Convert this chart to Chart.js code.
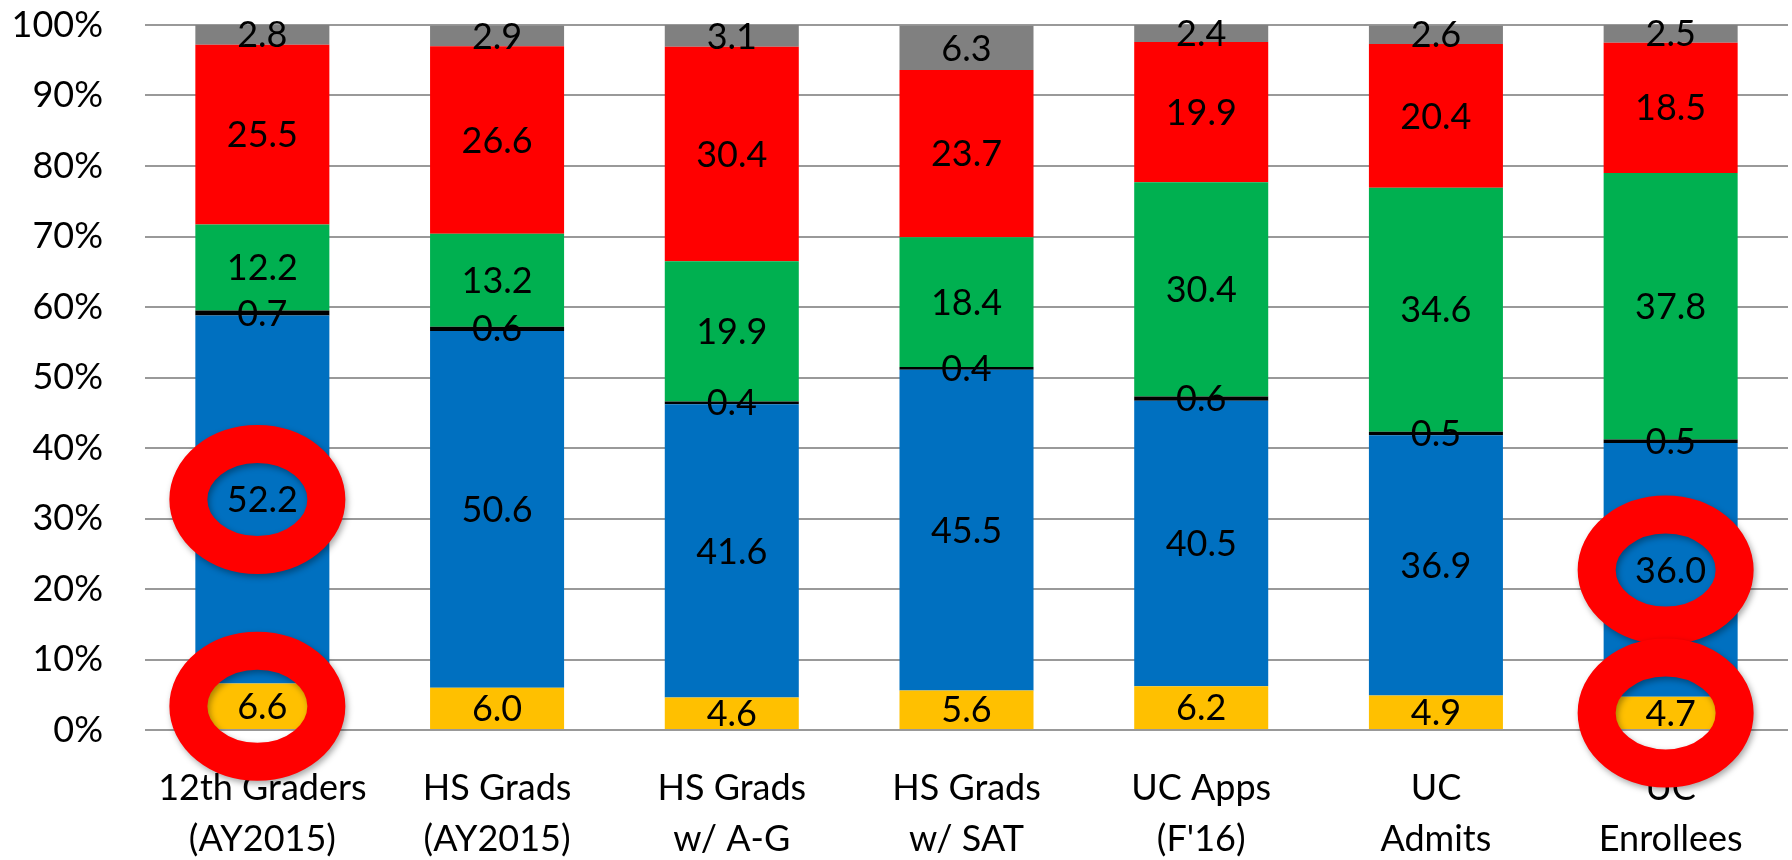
<!DOCTYPE html>
<html>
<head>
<meta charset="utf-8">
<script src="https://cdn.jsdelivr.net/npm/chart.js@4"></script>
<style>
  html, body { margin: 0; padding: 0; background: #ffffff; }
  canvas { display: block; }
</style>
</head>
<body>
<canvas id="c" width="1792" height="860"></canvas>
<script>
const categories = [
  ["12th Graders", "(AY2015)"],
  ["HS Grads", "(AY2015)"],
  ["HS Grads", "w/ A-G"],
  ["HS Grads", "w/ SAT"],
  ["UC Apps", "(F'16)"],
  ["UC", "Admits"],
  ["UC", "Enrollees"]
];
const yellowVals = [6.6, 6.0, 4.6, 5.6, 6.2, 4.9, 4.7];
const blueVals   = [52.2, 50.6, 41.6, 45.5, 40.5, 36.9, 36.0];
const blackVals  = [0.7, 0.6, 0.4, 0.4, 0.6, 0.5, 0.5];
const greenVals  = [12.2, 13.2, 19.9, 18.4, 30.4, 34.6, 37.8];
const redVals    = [25.5, 26.6, 30.4, 23.7, 19.9, 20.4, 18.5];
const grayVals   = [2.8, 2.9, 3.1, 6.3, 2.4, 2.6, 2.5];
const yTickLabels = ["0%", "10%", "20%", "30%", "40%", "50%", "60%", "70%", "80%", "90%", "100%"];
// which labels are circled: category index, series index
const highlightCats   = [0, 0, 6, 6];
const highlightSeries = [1, 0, 1, 0];

const FONT = "Lato, 'Open Sans', sans-serif";

const seriesList = [
  { label: "Yellow", data: yellowVals, color: "#FFC000" },
  { label: "Blue",   data: blueVals,   color: "#0070C0" },
  { label: "Black",  data: blackVals,  color: "#000000" },
  { label: "Green",  data: greenVals,  color: "#00B050" },
  { label: "Red",    data: redVals,    color: "#FF0000" },
  { label: "Gray",   data: grayVals,   color: "#808080" }
];

const valueLabels = {
  id: "valueLabels",
  afterDatasetsDraw(chart) {
    const ctx = chart.ctx;
    ctx.save();
    ctx.font = "36px " + FONT;
    ctx.fillStyle = "#000";
    ctx.textAlign = "center";
    ctx.textBaseline = "middle";
    chart.data.datasets.forEach((ds, di) => {
      const meta = chart.getDatasetMeta(di);
      meta.data.forEach((bar, i) => {
        const v = ds.data[i];
        const yc = (bar.y + bar.base) / 2;
        ctx.fillText(v.toFixed(1), bar.x, yc + 1);
      });
    });
    ctx.restore();
  }
};

const rings = {
  id: "rings",
  afterDraw(chart) {
    const ctx = chart.ctx;
    ctx.save();
    for (let k = 0; k < highlightCats.length; k++) {
      const bar = chart.getDatasetMeta(highlightSeries[k]).data[highlightCats[k]];
      const cx = bar.x - 5;
      const cy = (bar.y + bar.base) / 2;
      ctx.beginPath();
      ctx.ellipse(cx, cy, 69, 55.5, 0, 0, Math.PI * 2);
      ctx.lineWidth = 38;
      ctx.strokeStyle = "#FF0000";
      ctx.shadowColor = "rgba(0,0,0,0.35)";
      ctx.shadowBlur = 6;
      ctx.shadowOffsetX = 2;
      ctx.shadowOffsetY = 3;
      ctx.stroke();
    }
    ctx.restore();
  }
};

new Chart(document.getElementById("c"), {
  type: "bar",
  data: {
    labels: categories,
    datasets: seriesList.map(s => ({
      label: s.label,
      data: s.data,
      backgroundColor: s.color,
      borderWidth: 0,
      categoryPercentage: 1.0,
      barPercentage: 0.571
    }))
  },
  options: {
    responsive: false,
    animation: false,
    layout: { padding: { top: 25, right: 4, bottom: 0, left: 0 } },
    plugins: {
      legend: { display: false },
      tooltip: { enabled: false }
    },
    scales: {
      x: {
        stacked: true,
        grid: { display: false },
        border: { display: false },
        ticks: {
          color: "#000",
          font: { family: FONT, size: 36, lineHeight: 1.44 },
          padding: 24,
          maxRotation: 0,
          autoSkip: false
        },
        afterFit(scale) { scale.height = 130; }
      },
      y: {
        stacked: true,
        min: 0,
        max: 100,
        border: { display: false },
        grid: { color: "#999999", lineWidth: 2, drawTicks: false },
        ticks: {
          stepSize: 10,
          color: "#000",
          font: { family: FONT, size: 36 },
          padding: 42,
          callback: (v) => yTickLabels[Math.round(v / 10)]
        },
        afterFit(scale) {
          scale.width = 145;
          scale.paddingTop = 0;
          scale.paddingBottom = 0;
        }
      }
    }
  },
  plugins: [valueLabels, rings]
});
</script>
</body>
</html>
